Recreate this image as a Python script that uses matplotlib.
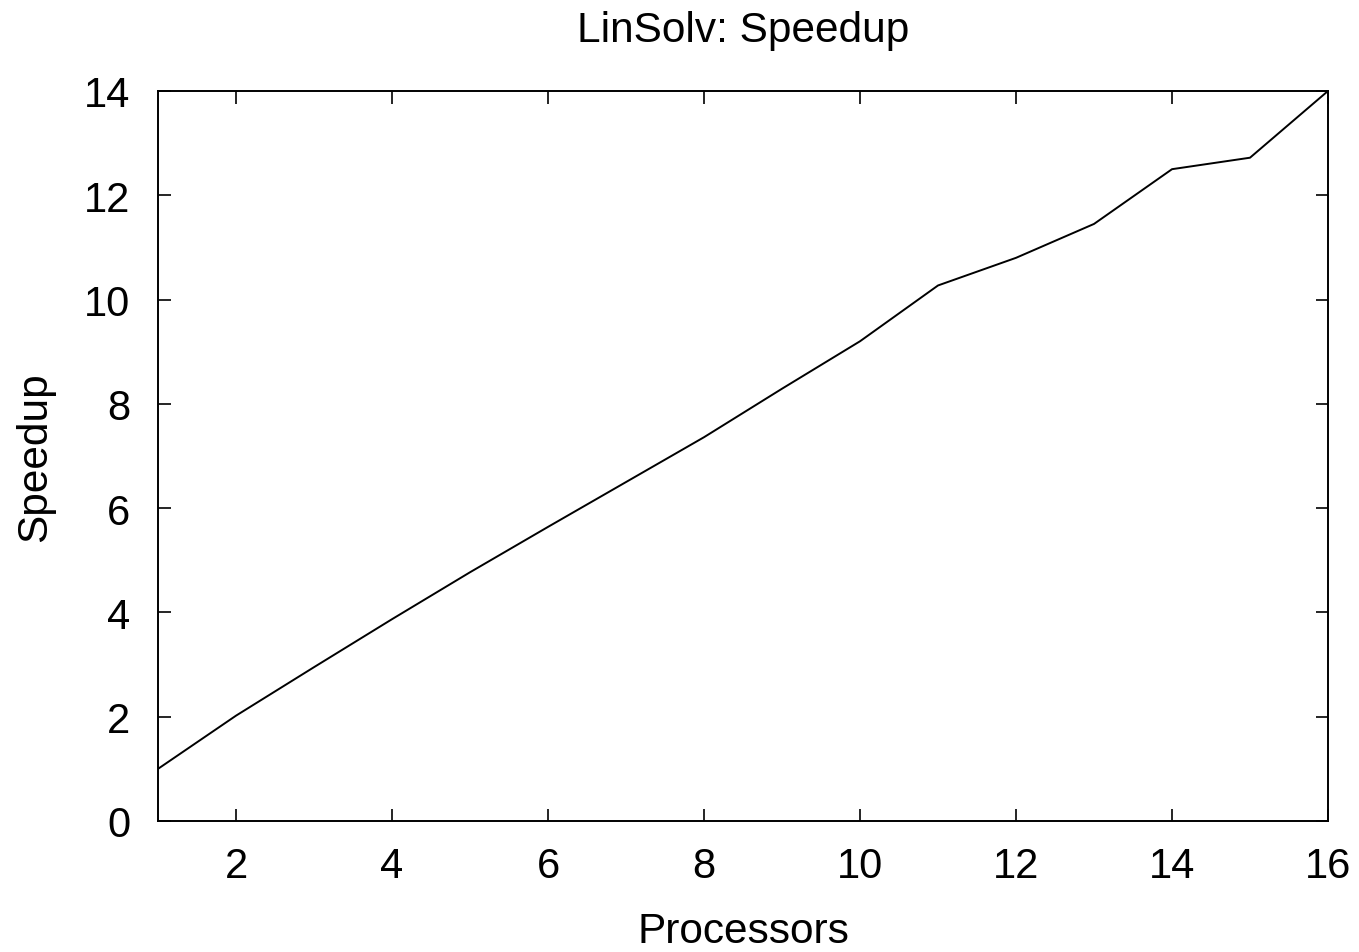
import matplotlib
matplotlib.use("Agg")
import matplotlib.pyplot as plt

processors = [1, 2, 3, 4, 5, 6, 7, 8, 9, 10, 11, 12, 13, 14, 15, 16]
speedup = [1.0, 2.02, 2.95, 3.87, 4.77, 5.64, 6.5, 7.36, 8.29, 9.2,
           10.27, 10.8, 11.45, 12.5, 12.72, 14.0]

plt.rcParams['font.family'] = ['Liberation Sans', 'DejaVu Sans']

fig = plt.figure(figsize=(13.59, 9.53), dpi=100)
ax = fig.add_axes([0.1163, 0.1375, 0.8609, 0.766])
ax.plot(processors, speedup, color='black', linewidth=1.4)

ax.set_xlim(1, 16)
ax.set_ylim(0, 14)
ax.set_xticks(range(2, 17, 2))
ax.set_yticks(range(0, 15, 2))
ax.tick_params(direction='in', length=9, width=1.2, labelsize=30,
               top=True, right=True)
ax.tick_params(axis='x', pad=18)
ax.tick_params(axis='y', pad=20)
for s in ax.spines.values():
    s.set_linewidth(1.4)

ax.set_title('LinSolv: Speedup', fontsize=30.5, pad=36)
ax.set_xlabel('Processors', fontsize=30.5, labelpad=18)
ax.set_ylabel('Speedup', fontsize=30.5, labelpad=20.5)

fig.savefig('out.png', dpi=100)
